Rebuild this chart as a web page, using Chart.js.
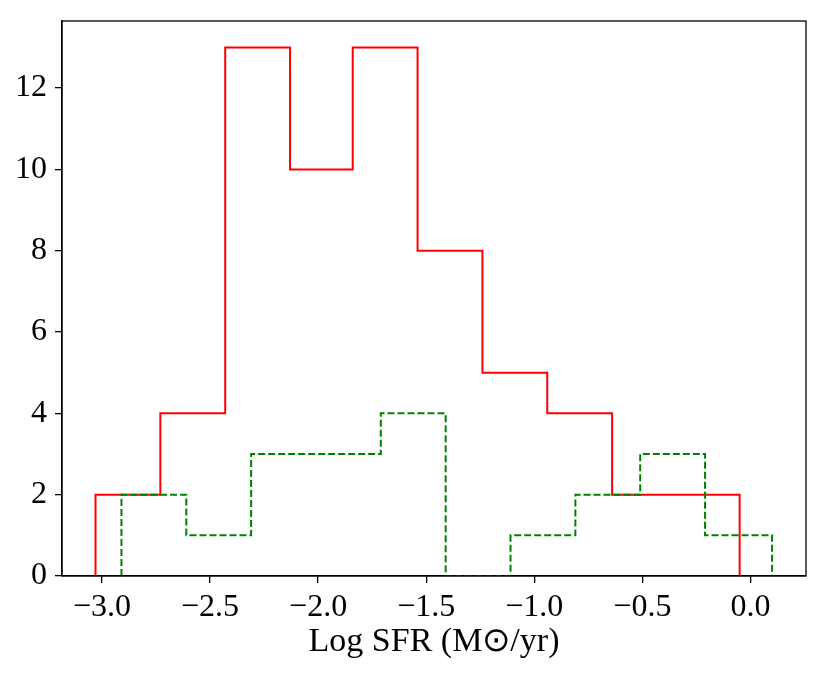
<!DOCTYPE html>
<html>
<head>
<meta charset="utf-8">
<script src="https://cdn.jsdelivr.net/npm/chart.js@4"></script>
<style>
  html, body { margin: 0; padding: 0; background: #fff; }
  #wrap { width: 829px; height: 678px; }
</style>
</head>
<body>
<div id="wrap"><canvas id="sfr-chart"></canvas></div>
<script>
// bin edges and counts
const redEdges = [-3.03, -2.73, -2.43, -2.13, -1.84, -1.54, -1.24, -0.94, -0.64, -0.34, -0.05];
const redCounts = [2, 4, 13, 10, 13, 8, 5, 4, 2, 2];
const greenEdges = [-2.91, -2.61, -2.31, -2.01, -1.71, -1.41, -1.11, -0.81, -0.51, -0.21, 0.10];
const greenCounts = [2, 1, 3, 3, 4, 0, 1, 2, 3, 1];
const xTicks = [-3.0, -2.5, -2.0, -1.5, -1.0, -0.5, 0.0];
const yTicks = [0, 2, 4, 6, 8, 10, 12];

// outline of a matplotlib "step" histogram
const stepPoints = (edges, counts) => {
  const pts = [{ x: edges[0], y: 0 }];
  counts.forEach((c, i) => pts.push({ x: edges[i], y: c }));
  pts.push({ x: edges[edges.length - 1], y: 0 });
  return pts;
};

const fmt = v => (v < 0 ? '\u2212' : '') + Math.abs(v).toFixed(1);

const frame = {
  id: 'frame',
  afterDatasetsDraw(chart) {
    const { ctx, chartArea: a } = chart;
    ctx.save();
    ctx.strokeStyle = '#000';
    ctx.lineWidth = 1.3;
    ctx.strokeRect(a.left, a.top, a.right - a.left, a.bottom - a.top);
    ctx.restore();
  }
};

const tickFont = { family: 'Liberation Serif', size: 32 };

new Chart(document.getElementById('sfr-chart').getContext('2d'), {
  type: 'line',
  data: {
    datasets: [
      {
        data: stepPoints(greenEdges, greenCounts),
        borderColor: '#008000', borderWidth: 2, borderDash: [7, 3],
        stepped: 'before', pointRadius: 0, fill: false
      },
      {
        data: stepPoints(redEdges, redCounts),
        borderColor: '#ff0000', borderWidth: 2,
        stepped: 'before', pointRadius: 0, fill: false
      }
    ]
  },
  options: {
    responsive: true,
    maintainAspectRatio: false,
    animation: false,
    layout: { padding: { top: 21, right: 23, left: 0, bottom: 0 } },
    plugins: { legend: { display: false }, tooltip: { enabled: false } },
    scales: {
      x: {
        type: 'linear', min: -3.185, max: 0.257,
        afterFit: s => { s.height = 102; s.paddingLeft = 0; s.paddingRight = 0; },
        afterBuildTicks: s => { s.ticks = xTicks.map(v => ({ value: v })); },
        ticks: { callback: fmt, color: '#000', font: tickFont, padding: 5, maxRotation: 0 },
        grid: { drawOnChartArea: false, color: '#000', tickLength: 7, lineWidth: 1.3 },
        border: { color: '#000', width: 1.3 },
        title: {
          display: true, text: 'Log SFR (M\u2299/yr)', color: '#000',
          font: { family: 'Liberation Serif', size: 34 }, padding: { top: 0, bottom: 16 }
        }
      },
      y: {
        min: 0, max: 13.65,
        afterFit: s => { s.width = 62; s.paddingTop = 0; s.paddingBottom = 0; },
        afterBuildTicks: s => { s.ticks = yTicks.map(v => ({ value: v })); },
        ticks: { color: '#000', font: tickFont, padding: 8 },
        grid: { drawOnChartArea: false, color: '#000', tickLength: 7, lineWidth: 1.3 },
        border: { color: '#000', width: 1.3 }
      }
    }
  },
  plugins: [frame]
});
</script>
</body>
</html>
